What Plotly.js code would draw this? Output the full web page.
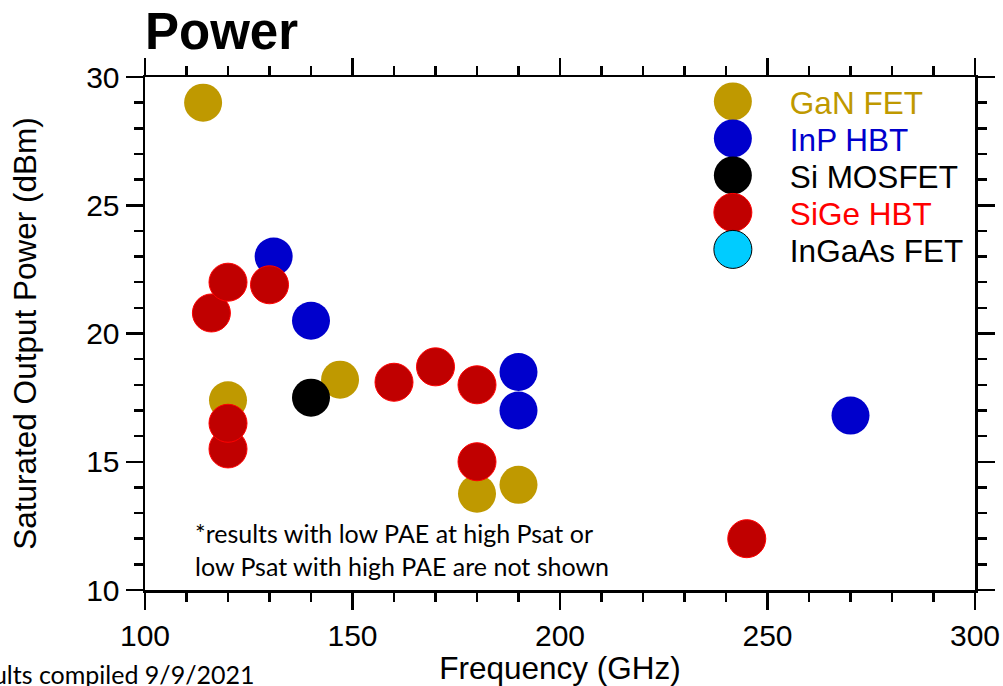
<!DOCTYPE html>
<html>
<head>
<meta charset="utf-8">
<script src="https://cdn.plot.ly/plotly-3.0.1.min.js"></script>
<style>html,body{margin:0;padding:0;background:#fff;}#chart{width:1003px;height:686px;}</style>
</head>
<body>
<div id="chart"></div>
<script>
// ---- data ----
var ganFreq = [114, 120, 147, 180, 190];
var ganPower = [29.0, 17.4, 18.2, 13.75, 14.1];
var inpFreq = [131, 140, 190, 190, 270];
var inpPower = [23.0, 20.5, 18.5, 17.0, 16.8];
var siFreq = [140];
var siPower = [17.5];
var sigeFreq = [116, 120, 130, 120, 120, 160, 170, 180, 180, 245];
var sigePower = [20.8, 22.0, 21.9, 15.5, 16.5, 18.1, 18.7, 18.0, 15.0, 12.0];
var ingaasFreq = [null];   // no InGaAs point is plotted, legend entry only
var ingaasPower = [null];
var seriesNames = ['GaN FET', 'InP HBT', 'Si MOSFET', 'SiGe HBT', 'InGaAs FET'];

var FONT = 'Liberation Sans, Arial, sans-serif';
var MS = 38;
var LEGEND_ROW = 37;

function mk(x, y, name, txtColor, fill, lineColor, lineW) {
  return {
    type: 'scatter', mode: 'markers', x: x, y: y,
    name: '<span style="color:' + txtColor + '">' + name + '</span>',
    marker: {size: MS, color: fill, line: {color: lineColor, width: lineW}},
    hoverinfo: 'x+y'
  };
}

var traces = [
  mk(ganFreq, ganPower, seriesNames[0], '#BF9900', '#BF9900', '#BF9900', 0),
  mk(inpFreq, inpPower, seriesNames[1], '#0000CC', '#0000CC', '#0000CC', 0),
  mk(siFreq, siPower, seriesNames[2], '#000000', '#000000', '#000000', 0),
  mk(sigeFreq, sigePower, seriesNames[3], '#FF0000', '#C00000', '#FF0000', 1),
  mk(ingaasFreq, ingaasPower, seriesNames[4], '#000000', '#00CCFF', '#000000', 1)
];

var axisCommon = {
  showgrid: false, zeroline: false,
  showline: true, linecolor: '#000', linewidth: 2.5,
  mirror: 'allticks', ticks: 'outside', ticklen: 17, tickwidth: 2.5, tickcolor: '#000',
  tickfont: {family: FONT, size: 30, color: '#000'}
};

var layout = {
  width: 1003, height: 686,
  margin: {l: 145, r: 28, t: 77, b: 96},
  paper_bgcolor: '#fff', plot_bgcolor: '#fff',
  font: {family: FONT, color: '#000'},
  title: {text: '<b>Power</b>', font: {family: FONT, size: 51, color: '#000'},
          x: 0, xanchor: 'left', xref: 'paper', y: 0.955, yanchor: 'middle'},
  xaxis: Object.assign({}, axisCommon, {
    range: [100, 300], tick0: 100, dtick: 50,
    minor: {dtick: 10, ticks: 'outside', ticklen: 9, tickwidth: 2.5, tickcolor: '#000', showgrid: false},
    title: {text: 'Frequency (GHz)', font: {family: FONT, size: 31.5, color: '#000'}, standoff: 2}
  }),
  yaxis: Object.assign({}, axisCommon, {
    range: [10, 30], tick0: 10, dtick: 5,
    minor: {dtick: 1, ticks: 'outside', ticklen: 9, tickwidth: 2.5, tickcolor: '#000', showgrid: false},
    title: {text: 'Saturated Output Power (dBm)', font: {family: FONT, size: 31.5, color: '#000'}, standoff: 40}
  }),
  showlegend: true,
  legend: {
    x: 0.6396, y: 1.005, xanchor: 'left', yanchor: 'top',
    bgcolor: 'rgba(0,0,0,0)', borderwidth: 0,
    font: {family: FONT, size: 31.5, color: '#000'},
    traceorder: 'normal', itemwidth: 104
  },
  annotations: [
    {xref: 'paper', yref: 'paper', x: 0.058, y: 0.078, xanchor: 'left', yanchor: 'middle', align: 'left',
     showarrow: false, font: {family: 'Lato, Open Sans, sans-serif', size: 25, color: '#000'},
     text: '*results with low PAE at high Psat or<br>low Psat with high PAE are not shown'},
    {xref: 'paper', yref: 'paper', x: (256-145)/830, y: -0.164, xanchor: 'right', yanchor: 'middle',
     showarrow: false, font: {family: 'Lato, Open Sans, sans-serif', size: 25, color: '#000'},
     text: 'Results compiled 9/9/2021'}
  ]
};

function circlePath(r) {
  return 'M' + r + ',0A' + r + ',' + r + ' 0 1,1 0,-' + r + 'A' + r + ',' + r + ' 0 0,1 ' + r + ',0Z';
}

Plotly.newPlot('chart', traces, layout, {staticPlot: true}).then(function () {
  document.querySelectorAll('.legend .legendpoints path.scatterpts').forEach(function (p) {
    p.setAttribute('d', circlePath(MS / 2));
  });
  var items = document.querySelectorAll('.legend g.traces');
  var y0 = null;
  items.forEach(function (g, i) {
    var t = g.getAttribute('transform') || '';
    var m = t.match(/translate\(\s*([-\d.]+)[ ,]+([-\d.]+)\s*\)/);
    if (!m) return;
    if (y0 === null) { y0 = parseFloat(m[2]); }
    g.setAttribute('transform', 'translate(' + parseFloat(m[1]) + ',' + (y0 + i * LEGEND_ROW) + ')');
  });
});
</script>
</body>
</html>
